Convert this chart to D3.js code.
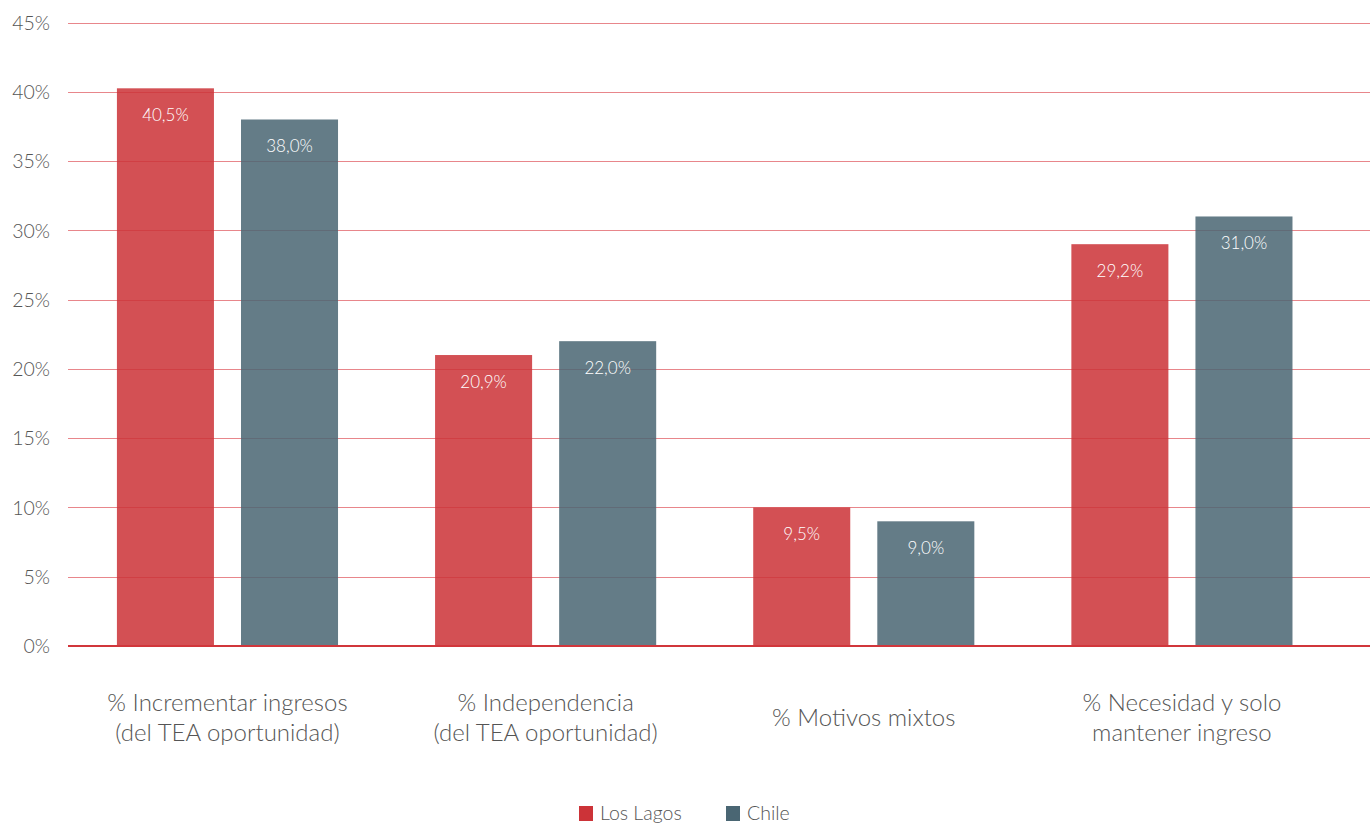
<!DOCTYPE html>
<html>
<head>
<meta charset="utf-8">
<script src="https://cdn.jsdelivr.net/npm/d3@7"></script>
<style>
  html, body { margin: 0; padding: 0; background: #fff; }
  svg { display: block; }
  text { font-family: Lato, "Open Sans", sans-serif; }
</style>
</head>
<body>
<svg id="chart" width="1370" height="823"></svg>
<script>
const categories = [
  ["% Incrementar ingresos", "(del TEA oportunidad)"],
  ["% Independencia", "(del TEA oportunidad)"],
  ["% Motivos mixtos"],
  ["% Necesidad y solo", "mantener ingreso"]
];
const seriesNames = ["Los Lagos", "Chile"];
const losLagos = [40.25, 21.0, 10.0, 29.0];
const losLagosLabels = ["40,5%", "20,9%", "9,5%", "29,2%"];
const chile = [38.0, 22.0, 9.0, 31.0];
const chileLabels = ["38,0%", "22,0%", "9,0%", "31,0%"];
const yTicks = [0, 5, 10, 15, 20, 25, 30, 35, 40, 45];
const colors = ["#cc3338", "#4a6673"];

(function () {
const svg = d3.select("#chart");
const pL = 68, pR = 1370, pT = 22.5, pB = 646;

const y = d3.scaleLinear().domain([0, 45]).range([pB, pT]);
const x0 = d3.scaleBand().domain(d3.range(categories.length))
  .range([68.4, 1341]).paddingInner(0.305).paddingOuter(0.1525);
const x1 = d3.scaleBand().domain(d3.range(2))
  .range([0, x0.bandwidth()]).paddingInner(0.218).paddingOuter(0);

// grid lines
svg.append("g").selectAll("line").data(yTicks.filter(d => d > 0)).join("line")
  .attr("x1", pL).attr("x2", pR)
  .attr("y1", d => Math.round(y(d)) + 0.5).attr("y2", d => Math.round(y(d)) + 0.5)
  .attr("stroke", "#e8868b").attr("stroke-width", 1);

// y axis labels
const yAxis = d3.axisLeft(y).tickValues(yTicks).tickFormat(d => d + "%").tickSize(0).tickPadding(0);
const ya = svg.append("g").attr("transform", `translate(50,0)`).call(yAxis);
ya.select(".domain").remove();
ya.selectAll("text").attr("font-size", 19.5).attr("fill", "#555")
  .attr("font-family", "Lato, sans-serif").attr("font-weight", 300).attr("dy", "0.35em");

const series = [
  { values: losLagos, labels: losLagosLabels },
  { values: chile, labels: chileLabels }
];

const groups = svg.append("g").selectAll("g").data(categories).join("g")
  .attr("transform", (d, i) => `translate(${x0(i)},0)`);

groups.each(function(c, i) {
  const g = d3.select(this);
  series.forEach((s, k) => {
    const v = s.values[i];
    g.append("rect")
      .attr("x", x1(k)).attr("width", x1.bandwidth())
      .attr("y", y(v)).attr("height", y(0) - y(v))
      .attr("fill", colors[k]).attr("fill-opacity", 0.86);
    g.append("text")
      .attr("x", x1(k) + x1.bandwidth() / 2)
      .attr("y", y(v) + 33)
      .attr("text-anchor", "middle")
      .attr("font-size", 17).attr("font-weight", 300).attr("fill", "#ffffff")
      .text(s.labels[i]);
  });
  const lines = c;
  const lh = 30;
  const cy = 718;
  const t = g.append("text").attr("text-anchor", "middle")
    .attr("font-size", 24).attr("font-weight", 300).attr("fill", "#555");
  lines.forEach((ln, j) => {
    t.append("tspan").attr("x", x0.bandwidth() / 2)
      .attr("y", cy + (j - (lines.length - 1) / 2) * lh + 8)
      .text(ln);
  });
});

// baseline
svg.append("line").attr("x1", pL).attr("x2", pR)
  .attr("y1", y(0)).attr("y2", y(0))
  .attr("stroke", "#d1363b").attr("stroke-width", 2);

// legend
const legendItems = [
  { name: seriesNames[0], color: colors[0], x: 579 },
  { name: seriesNames[1], color: colors[1], x: 726 }
];
const lg = svg.append("g").selectAll("g").data(legendItems).join("g")
  .attr("transform", d => `translate(${d.x},806)`);
lg.append("rect").attr("width", 14).attr("height", 15).attr("fill", d => d.color);
lg.append("text").attr("x", 21).attr("y", 14).attr("font-size", 19.5)
  .attr("font-weight", 300).attr("fill", "#555").text(d => d.name);
})();
</script>
</body>
</html>
